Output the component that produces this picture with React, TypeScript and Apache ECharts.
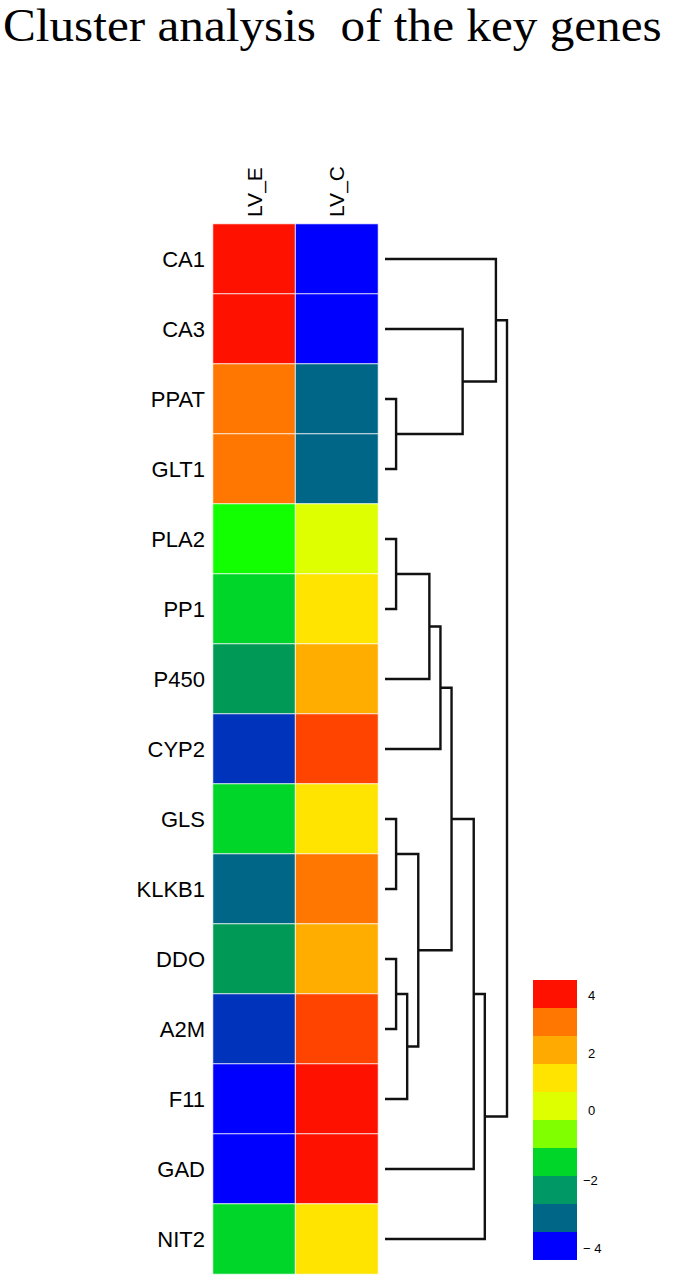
import React, { useEffect, useRef } from "react";
import * as echarts from "echarts";

const titleText = "Cluster analysis  of the key genes";
const columns = ["LV_E", "LV_C"];
const genes = ["CA1", "CA3", "PPAT", "GLT1", "PLA2", "PP1", "P450", "CYP2", "GLS", "KLKB1", "DDO", "A2M", "F11", "GAD", "NIT2"];
const valuesLV_E = [4.0, 4.0, 3.0, 3.0, -1.0, -1.8, -2.4, -3.5, -1.8, -3.0, -2.4, -3.5, -4.0, -4.0, -1.8];
const valuesLV_C = [-4.0, -4.0, -3.0, -3.0, 0.0, 1.2, 2.2, 3.5, 1.2, 3.0, 2.2, 3.5, 4.0, 4.0, 1.2];

// color pieces used for the cells: [min, max, color]
const cellPieces: [number, number, string][] = [
  [-4.5, -3.8, "#0000ff"],
  [-3.8, -3.3, "#0033bb"],
  [-3.3, -2.7, "#006688"],
  [-2.7, -2.1, "#009955"],
  [-2.1, -1.5, "#00d62a"],
  [-1.5, -0.5, "#11ff00"],
  [-0.5, 0.6, "#ddff00"],
  [0.6, 1.6, "#ffe400"],
  [1.6, 2.6, "#ffae00"],
  [2.6, 3.2, "#ff7700"],
  [3.2, 3.7, "#ff4400"],
  [3.7, 4.5, "#ff1100"],
];

// legend colour key (top = 4, bottom = -4)
const legendColors = ["#ff1100", "#ff7700", "#ffaa00", "#ffe400", "#ddff00", "#80ff00", "#00d62a", "#009966", "#006688", "#0000ff"];
const legendTicks = ["4", "2", "0", "\u22122", "\u2212 4"];

// dendrogram merges: [left, right, height]; leaves by gene name, internal nodes by "n<index>"
const merges: [string, string, number][] = [
  ["PPAT", "GLT1", 1],   // n0
  ["CA3", "n0", 7],      // n1
  ["CA1", "n1", 10],     // n2
  ["PLA2", "PP1", 1],    // n3
  ["n3", "P450", 4],     // n4
  ["n4", "CYP2", 5],     // n5
  ["GLS", "KLKB1", 1],   // n6
  ["DDO", "A2M", 1],     // n7
  ["n7", "F11", 2],      // n8
  ["n6", "n8", 3],       // n9
  ["n5", "n9", 6],       // n10
  ["n10", "GAD", 8],     // n11
  ["n11", "NIT2", 9],    // n12
  ["n2", "n12", 11],     // n13
];
const maxHeight = 11;

export default function App() {
  const ref = useRef<HTMLDivElement>(null);
  useEffect(() => {
    if (!ref.current) return;
    const chart = echarts.init(ref.current, undefined, { renderer: "svg" });

    const heatData: [number, number, number][] = [];
    genes.forEach((g, i) => {
      heatData.push([0, i, valuesLV_E[i]]);
      heatData.push([1, i, valuesLV_C[i]]);
    });

    // node positions: leaves at row centres, internal nodes at mean of children
    const pos: Record<string, { h: number; y: number }> = {};
    genes.forEach((g, i) => (pos[g] = { h: 0, y: i + 0.5 }));
    const links: { coords: number[][] }[] = [];
    merges.forEach(([a, b, h], idx) => {
      const pa = pos[a];
      const pb = pos[b];
      links.push({
        coords: [
          [pa.h, pa.y],
          [h, pa.y],
          [h, pb.y],
          [pb.h, pb.y],
        ],
      });
      pos["n" + idx] = { h, y: (pa.y + pb.y) / 2 };
    });

    const legendX = 533;
    const legendTop = 980;
    const legendBox = 28;
    const legendTickY = [995, 1053, 1110, 1180, 1248];

    const graphics: any[] = [
      {
        type: "text",
        x: 3,
        y: 3,
        scaleX: 1.07,
        originX: 0,
        style: {
          text: titleText,
          fontSize: 46,
          fontFamily: '"Liberation Serif", "Times New Roman", serif',
          fill: "#000",
          verticalAlign: "top",
        },
      },
    ];
    legendColors.forEach((c, i) => {
      graphics.push({
        type: "rect",
        shape: { x: legendX, y: legendTop + i * legendBox, width: 44, height: legendBox },
        style: { fill: c },
      });
    });
    legendTicks.forEach((t, i) => {
      graphics.push({
        type: "text",
        x: t.length > 1 ? 583 : 588,
        y: legendTickY[i],
        style: {
          text: t,
          fontSize: 13,
          fontFamily: '"Liberation Sans", Arial, sans-serif',
          fill: "#000",
          verticalAlign: "middle",
        },
      });
    });

    chart.setOption({
      animation: false,
      backgroundColor: "#fff",
      grid: [
        { left: 213, top: 224, width: 165, height: 1050 },
        { left: 385, top: 224, width: 122, height: 1050 },
      ],
      xAxis: [
        {
          type: "category",
          data: columns,
          position: "top",
          gridIndex: 0,
          axisLine: { show: false },
          axisTick: { show: false },
          splitLine: { show: false },
          axisLabel: {
            rotate: -90,
            fontSize: 21,
            fontFamily: '"Liberation Sans", Arial, sans-serif',
            color: "#000",
            margin: 7,
          },
        },
        { type: "value", gridIndex: 1, min: 0, max: maxHeight, show: false },
      ],
      yAxis: [
        {
          type: "category",
          data: genes,
          inverse: true,
          gridIndex: 0,
          axisLine: { show: false },
          axisTick: { show: false },
          splitLine: { show: false },
          axisLabel: {
            fontSize: 22,
            fontFamily: '"Liberation Sans", Arial, sans-serif',
            color: "#000",
            margin: 8,
          },
        },
        { type: "value", gridIndex: 1, min: 0, max: genes.length, inverse: true, show: false },
      ],
      visualMap: {
        type: "piecewise",
        show: false,
        seriesIndex: 0,
        dimension: 2,
        pieces: cellPieces.map(([min, max, color]) => ({ gte: min, lt: max, color })),
      },
      graphic: graphics,
      series: [
        {
          type: "heatmap",
          xAxisIndex: 0,
          yAxisIndex: 0,
          data: heatData,
          itemStyle: { borderColor: "rgba(255,255,255,0.85)", borderWidth: 1 },
          emphasis: { disabled: true },
        },
        {
          type: "lines",
          coordinateSystem: "cartesian2d",
          xAxisIndex: 1,
          yAxisIndex: 1,
          polyline: true,
          data: links,
          lineStyle: { color: "#111", width: 2.4, opacity: 1 },
          silent: true,
        },
      ],
    });
    return () => chart.dispose();
  }, []);
  return <div ref={ref} style={{ position: "absolute", left: 0, top: 0, width: 673, height: 1275 }} />;
}
